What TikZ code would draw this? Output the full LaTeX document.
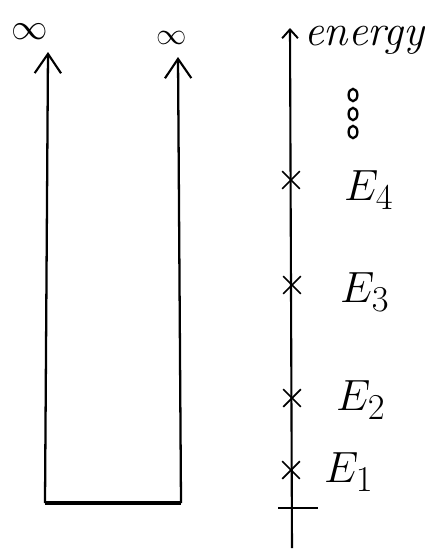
\documentclass[tikz,border=0pt]{standalone}
\usepackage{amsmath}
\usetikzlibrary{arrows.meta, shapes.misc, shapes.geometric, calc, positioning}

\tikzset{
  wall/.style={line width=1.3pt, -{Straight Barb[length=11pt,width=15pt,line width=1.2pt]}},
  axisline/.style={line width=1.2pt, -{Straight Barb[length=5pt,width=9pt,line width=1.1pt]}},
  level/.style={cross out, draw, line width=1pt, minimum size=9pt, inner sep=0pt},
  elabel/.style={font=\fontsize{30}{34}\selectfont\itshape, anchor=west},
  dot/.style={ellipse, draw, line width=1.3pt, minimum width=5pt, minimum height=7pt, inner sep=0pt}
}

\begin{document}
\begin{tikzpicture}[x=0.02cm, y=-0.02cm]
            \useasboundingbox (0,0) rectangle (425,555);

            % Corners of the well
            \coordinate (bl) at (45,503);
            \coordinate (br) at (181,503);
            \coordinate (tl) at (48,52);
            \coordinate (tr) at (178,57);

            % Walls and floor
            \draw[wall] (bl) -- (tl);
            \draw[wall] (br) -- (tr);
            \draw[line width=2pt] (bl) -- (br);

            % Infinite walls
            \node (infl) at (30,32) {\fontsize{22}{26}\selectfont$\infty$};
            \node (infr) at (172,38) {\fontsize{19}{22}\selectfont$\infty$};

            % Energy axis
            \coordinate (ebot) at (292,548);
            \coordinate (etop) at (290,28);
            \draw[axisline] (ebot) -- (etop);
            \node[anchor=west, font=\fontsize{25}{28}\selectfont\itshape] (energy) at (298,40) {energy};
            \foreach \y/\n in {95/a,114/b,132/c}
              \node[dot] (dot\n) at (353,\y) {};

            % Levels
            \node[level] (l4) at (291,180) {};
            \node[level] (l3) at (292,285) {};
            \node[level] (l2) at (292,398) {};
            \node[level] (l1) at (291,470) {};
            \draw[line width=1pt] (278,508) -- (318,508);

            % Labels
            \node[elabel] (e4) at (338,190) {$E_4$};
            \node[elabel] (e3) at (334,292) {$E_3$};
            \node[elabel] (e2) at (330,400) {$E_2$};
            \node[elabel] (e1) at (318,472) {$E_1$};
        \end{tikzpicture}
\end{document}
